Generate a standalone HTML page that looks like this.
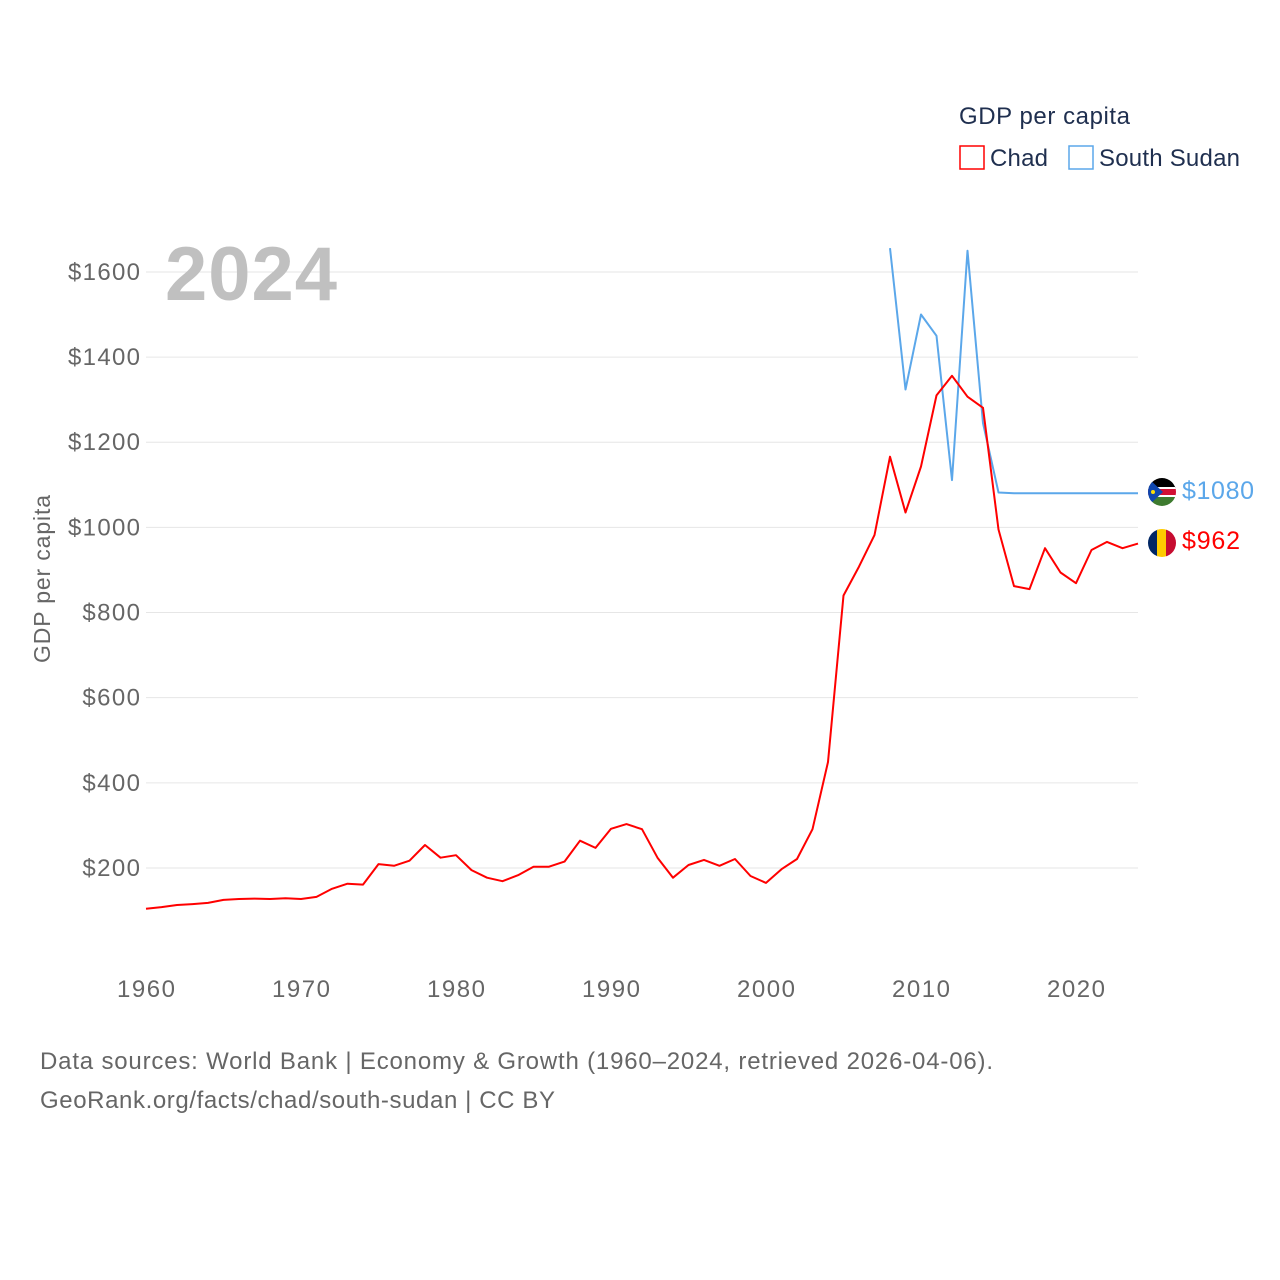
<!DOCTYPE html>
<html><head><meta charset="utf-8"><style>
body{margin:0;background:#fff;font-family:"Liberation Sans",sans-serif;}
svg{display:block}
</style></head><body>
<svg id="chart" width="1280" height="1280" xmlns="http://www.w3.org/2000/svg" font-family="Liberation Sans, sans-serif">
<rect width="1280" height="1280" fill="#fff"/>
<g id="grid"></g>
<g id="yticks"></g>
<g id="xticks"></g>
<text x="165" y="300" font-size="76" font-weight="bold" fill="#c0c0c0" textLength="172">2024</text>
<text transform="translate(50,579) rotate(-90)" text-anchor="middle" font-size="23" fill="#666" textLength="168">GDP per capita</text>
<g>
<text x="959" y="124" font-size="24" fill="#1f2f4f" textLength="171">GDP per capita</text>
<g><rect x="960" y="146" width="24" height="23" fill="none" stroke="#ff0000" stroke-width="1.5"/><text x="990" y="166" font-size="24" fill="#1f2f4f" textLength="58">Chad</text></g>
<g><rect x="1069" y="146" width="24" height="23" fill="none" stroke="#5ba7ea" stroke-width="1.5"/><text x="1099" y="166" font-size="24" fill="#1f2f4f" textLength="141">South Sudan</text></g>
</g>
<g id="series"></g>
<g>
<clipPath id="c1"><circle cx="1162" cy="492" r="14"/></clipPath>
<g clip-path="url(#c1)">
<rect x="1148" y="478" width="28" height="10" fill="#000"/><rect x="1148" y="488" width="28" height="8" fill="#d21034"/><rect x="1148" y="487" width="28" height="2" fill="#fff"/><rect x="1148" y="495" width="28" height="2" fill="#fff"/><rect x="1148" y="497" width="28" height="9" fill="#3e7b2f"/><polygon points="1148,478 1163,492 1148,506" fill="#0f47af"/><circle cx="1153" cy="492" r="2" fill="#fcdd09"/></g>
<text x="1182" y="499" font-size="25" fill="#5ba7ea" textLength="72">$1080</text>
<clipPath id="c2"><circle cx="1162" cy="543" r="14"/></clipPath>
<g clip-path="url(#c2)">
<rect x="1148" y="529" width="10" height="28" fill="#002664"/><rect x="1157" y="529" width="10" height="28" fill="#fecb00"/><rect x="1166" y="529" width="10" height="28" fill="#c60c30"/></g>
<text x="1182" y="549" font-size="25" fill="#ff0000" textLength="58">$962</text>
</g>
<text x="40" y="1069" font-size="24" fill="#666" textLength="953">Data sources: World Bank | Economy &amp; Growth (1960–2024, retrieved 2026-04-06).</text>
<text x="40" y="1108" font-size="24" fill="#666" textLength="515">GeoRank.org/facts/chad/south-sudan | CC BY</text>
</svg>
<script>
const chadYears=[];for(let y=1960;y<=2024;y++)chadYears.push(y);
const chadValues=[104,108,113,115,118,125,127,128,127,129,127,132,151,163,161,209,205,217,254,224,230,195,177,169,183,203,203,215,264,247,292,303,291,224,177,207,219,205,221,181,165,197,221,291,449,840,908,982,1166,1035,1143,1310,1356,1307,1281,995,862,855,951,894,869,947,966,951,962];
const ssYears=[2008,2009,2010,2011,2012,2013,2014,2015,2016,2017,2018,2019,2020,2021,2022,2023,2024];
const ssValues=[1656,1324,1500,1450,1111,1650,1245,1082,1080,1080,1080,1080,1080,1080,1080,1080,1080];
const yTickValues=[200,400,600,800,1000,1200,1400,1600];
const xTickValues=[1960,1970,1980,1990,2000,2010,2020];
const NS='http://www.w3.org/2000/svg';
const xS=y=>146+(y-1960)*15.5;
const yS=v=>953.1-v*0.42571;
function mk(t,a,p){const e=document.createElementNS(NS,t);for(const k in a)e.setAttribute(k,a[k]);p.appendChild(e);return e;}
const grid=document.getElementById('grid'),yt=document.getElementById('yticks'),xt=document.getElementById('xticks'),ser=document.getElementById('series');
yTickValues.forEach(v=>{
const l=mk('line',{x1:146,x2:1138,y1:yS(v),y2:yS(v),stroke:'#e6e6e6','stroke-width':1},grid);


const s='$'+v;
const t=mk('text',{x:140,y:yS(v)+8,'text-anchor':'end','font-size':24,fill:'#666',textLength:s.length*14.4},yt);
t.textContent=s;


});
xTickValues.forEach(v=>{
const t=mk('text',{x:xS(v),y:997,'text-anchor':'middle','font-size':24,fill:'#666',textLength:58},xt);
t.textContent=v;


});
function line(xs,vs,col,name){
const d=xs.map((x,i)=>(i?'L':'M')+xS(x).toFixed(1)+' '+yS(vs[i]).toFixed(1)).join(' ');
const p=mk('path',{d:d,fill:'none',stroke:col,'stroke-width':2,'stroke-linejoin':'round'},ser);


}
line(ssYears,ssValues,'#5ba7ea','south-sudan-line');
line(chadYears,chadValues,'#ff0000','chad-line');
</script>
</body></html>
